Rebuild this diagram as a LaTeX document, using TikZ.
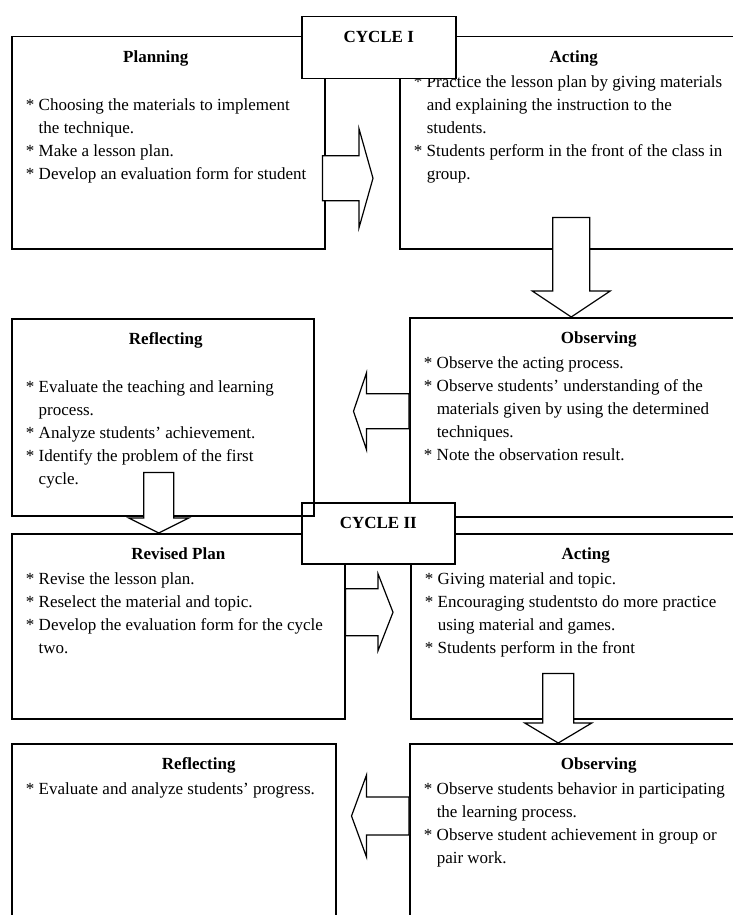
\documentclass[tikz,border=0pt]{standalone}
\usepackage{fontspec}
\setmainfont{Liberation Serif}
\usetikzlibrary{calc}

\tikzset{
  stage/.style={draw, line width=1.5pt, fill=white, inner sep=0pt, anchor=north west},
  barrow/.style={draw, fill=white, line width=1.2pt},
}

% box text: width, height, content
\newcommand\stage[3]{\parbox[c][#2pt][t]{#1pt}{\raggedright\vspace*{14pt}#3}}
% title line, optional shift of its centre
\newcommand\ttl[2][0]{\noindent\makebox[\hsize]{\hspace*{#1pt}\hspace*{#1pt}\textbf{#2}}\par\vspace{2pt}}
% starred item
\newcommand\itm{\par\noindent\hangindent=27pt\hangafter=1\hspace*{14pt}\makebox[13pt][l]{*}}
% block arrow: start, tip, shaft half width, head half width, head length
\newcommand\blockarrow[5]{%
  \coordinate (ba-b) at ($(#2)!#5pt!(#1)$);
  \draw[barrow] ($(#1)!#3pt!90:(#2)$) -- ($(ba-b)!#3pt!90:(#2)$) -- ($(ba-b)!#4pt!90:(#2)$) -- (#2)
    -- ($(ba-b)!#4pt!-90:(#2)$) -- ($(ba-b)!#3pt!-90:(#2)$) -- ($(#1)!#3pt!-90:(#2)$) -- cycle;
}

\begin{document}
\begin{tikzpicture}[x=1pt, y=-1pt, font=\fontsize{17}{23}\selectfont]
    \clip (0,0) rectangle (733,915);

    % Cycle I: planning
    \node[stage] (plan) at (11,36) {\stage{313}{212}{
        \ttl[-12.5]{Planning}\vspace{23pt}
        \itm Choosing the materials to implement\newline the technique.
        \itm Make a lesson plan.
        \itm Develop an evaluation form for student
    }};

    % Cycle I: acting
    \node[stage] (act1) at (399,36) {\stage{348}{212}{
        \ttl{Acting}
        \itm Practice the lesson plan by giving materials\newline and explaining the instruction to the\newline students.
        \itm Students perform in the front of the class in\newline group.
    }};

    % Cycle I: observing
    \node[stage] (obs1) at (409,317) {\stage{378}{199}{
        \ttl{Observing}
        \itm Observe the acting process.
        \itm Observe students’ understanding of the\newline materials given by using the determined\newline techniques.
        \itm Note the observation result.
    }};

    % Cycle II: revised plan
    \node[stage] (rev) at (11,533) {\stage{333}{185}{
        \ttl{Revised Plan}
        \itm Revise the lesson plan.
        \itm Reselect the material and topic.
        \itm Develop the evaluation form for the cycle\newline two.
    }};

    % Cycle II: acting
    \node[stage] (act2) at (410,533) {\stage{350}{185}{
        \ttl{Acting}
        \itm Giving material and topic.
        \itm Encouraging studentsto do more practice\newline using material and games.
        \itm Students perform in the front
    }};

    % Cycle II: reflecting
    \node[stage] (refl2) at (11,743) {\stage{324}{200}{
        \ttl[25]{Reflecting}
        \itm Evaluate and analyze students’ progress.
    }};

    % Cycle II: observing
    \node[stage] (obs2) at (409,743) {\stage{378}{200}{
        \ttl{Observing}
        \itm Observe students behavior in participating\newline the learning process.
        \itm Observe student achievement in group or\newline pair work.
    }};

    % Cycle II label
    \node[stage] (cyc2) at (301,502) {\stage{153}{61}{\ttl{CYCLE II}}};

    % Cycle I: reflecting
    \node[stage, fill=none] (refl1) at (11,318) {\stage{302}{197}{
        \ttl[3]{Reflecting}\vspace{23pt}
        \itm Evaluate the teaching and learning\newline process.
        \itm Analyze students’ achievement.
        \itm Identify the problem of the first\newline cycle.
    }};

    % arrows
    \coordinate (a1s) at ($(plan.east)+(-3,35.5)$);
    \coordinate (a1t) at ($(act1.west |- a1s)+(-26,0)$);
    \blockarrow{a1s}{a1t}{22.5}{49.5}{14}

    \coordinate (a2s) at ($(act1.south)+(-2.5,-32)$);
    \coordinate (a2t) at (a2s |- obs1.north);
    \blockarrow{a2s}{a2t}{18.5}{39}{26}

    \coordinate (a3s) at ($(obs1.west)+(0,-6)$);
    \coordinate (a3t) at ($(refl1.east |- a3s)+(39,0)$);
    \blockarrow{a3s}{a3t}{17.5}{38.5}{13}

    \coordinate (a4s) at ($(refl1.south)+(-4,-44)$);
    \coordinate (a4t) at (a4s |- rev.north);
    \blockarrow{a4s}{a4t}{15}{30}{15}

    \coordinate (a5s) at ($(rev.east)+(0,-14)$);
    \coordinate (a5t) at ($(act2.west |- a5s)+(-17,0)$);
    \blockarrow{a5s}{a5t}{23.5}{38.5}{15}

    \coordinate (a6s) at ($(act2.south)+(-27.5,-46)$);
    \coordinate (a6t) at (a6s |- obs2.north);
    \blockarrow{a6s}{a6t}{15.5}{33.5}{20}

    \coordinate (a7s) at ($(obs2.north west)+(0,73)$);
    \coordinate (a7t) at ($(refl2.east |- a7s)+(15,0)$);
    \blockarrow{a7s}{a7t}{19}{41}{15}

    % Cycle I label
    \node[stage] (cyc1) at (301,16) {\stage{154}{62}{\ttl{CYCLE I}}};
\end{tikzpicture}
\end{document}
